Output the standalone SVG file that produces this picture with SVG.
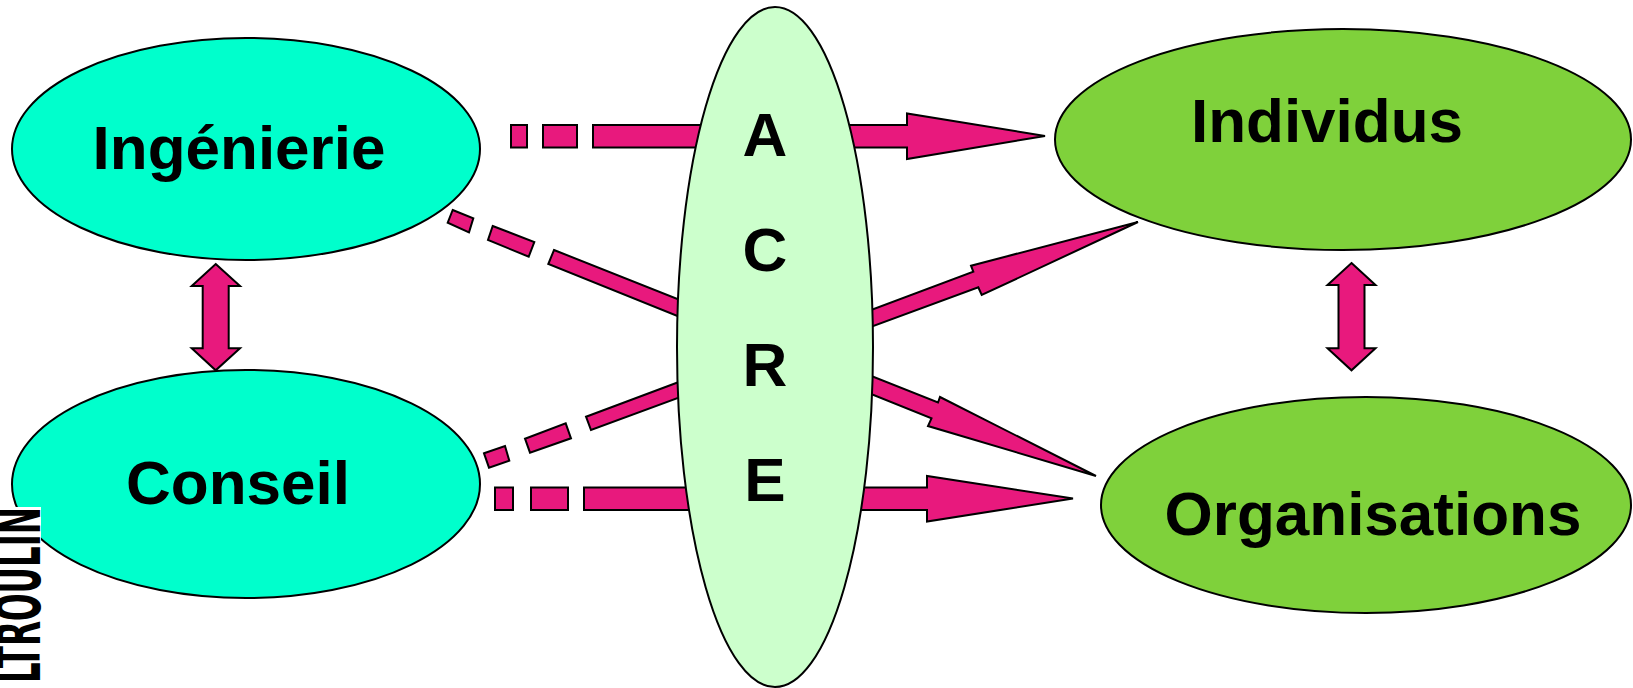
<svg xmlns="http://www.w3.org/2000/svg" width="1633" height="688" viewBox="0 0 1633 688">
<style>
.node{stroke:#000;stroke-width:2}
.cyan{fill:#00FFCC}
.acre{fill:#CCFFCC}
.green{fill:#7FD13B}
.lbl{font-family:"Liberation Sans",Arial,sans-serif;font-weight:bold;font-size:62px;fill:#000;text-anchor:middle}
.arr{fill:#E8197D;stroke:#000;stroke-width:2;stroke-linejoin:miter}
</style>
<rect width="1633" height="688" fill="#fff"/>
<g id="ingenierie">
<ellipse class="node cyan" cx="246" cy="149" rx="234" ry="111"/>
<text class="lbl" x="239" y="169">Ingénierie</text>
</g>
<g id="conseil">
<ellipse class="node cyan" cx="246" cy="484" rx="234" ry="114"/>
<text class="lbl" x="238" y="504">Conseil</text>
</g>
<g id="connectors">
<!-- Ingenierie -> Individus -->
<rect class="arr" x="511" y="125" width="16" height="22.5"/>
<rect class="arr" x="543" y="125" width="34" height="22.5"/>
<polygon class="arr" points="593,125 907,125 907,113.5 1045,136 907,159 907,147.5 593,147.5"/>
<!-- Conseil -> Organisations -->
<rect class="arr" x="495" y="487.5" width="18" height="22.5"/>
<rect class="arr" x="531" y="487.5" width="37" height="22.5"/>
<polygon class="arr" points="584,487.5 927,487.5 927,476 1073,498.5 927,521.5 927,510 584,510"/>
<!-- Ingenierie -> Organisations -->
<polygon class="arr" points="452.7,210 473.3,218.3 469,232.3 447.7,222.7"/>
<polygon class="arr" points="492.7,226 534.3,242 528.7,256.7 488,240"/>
<polygon class="arr" points="554,250 938,402.5 940,397 1096,476 928,426 931.5,418.3 548.3,264"/>
<!-- Conseil -> Individus -->
<polygon class="arr" points="484,453.3 505,446 509.3,460.7 489,467.7"/>
<polygon class="arr" points="525,438.7 565.7,423.3 571,438.3 530,452.7"/>
<polygon class="arr" points="586,416.7 973.3,271.7 971,265.7 1138,222 981.7,295 978.3,287.3 591,430"/>
<!-- vertical double arrows -->
<polygon class="arr" points="215.7,264 240,286 228.7,286 228.7,348.3 240,348.3 215.7,370.3 191.7,348.3 202.7,348.3 202.7,286 191.7,286"/>
<polygon class="arr" points="1351.5,263 1375.5,285 1364.5,285 1364.5,348.3 1375.5,348.3 1351.5,370.3 1327.5,348.3 1338.5,348.3 1338.5,285 1327.5,285"/>
</g>
<g id="acre">
<ellipse class="node acre" cx="775" cy="347" rx="98" ry="340"/>
<text class="lbl" x="765" y="156">A</text>
<text class="lbl" x="765" y="271">C</text>
<text class="lbl" x="765" y="386">R</text>
<text class="lbl" x="765" y="501">E</text>
</g>
<g id="individus">
<ellipse class="node green" cx="1343" cy="139.5" rx="288" ry="110.5"/>
<text class="lbl" x="1327" y="142">Individus</text>
</g>
<g id="organisations">
<ellipse class="node green" cx="1366" cy="505" rx="265" ry="108"/>
<text class="lbl" x="1373" y="535">Organisations</text>
</g>
<g id="side-label">
<rect x="0" y="507" width="41" height="181" fill="#fff"/>
<text transform="translate(40,683) rotate(-90)" x="0" y="0" font-family="'Liberation Sans Narrow','DejaVu Sans Condensed','Liberation Sans',sans-serif" font-weight="bold" font-size="62" textLength="176" lengthAdjust="spacingAndGlyphs" fill="#000">LTROULIN</text>
</g>
</svg>
